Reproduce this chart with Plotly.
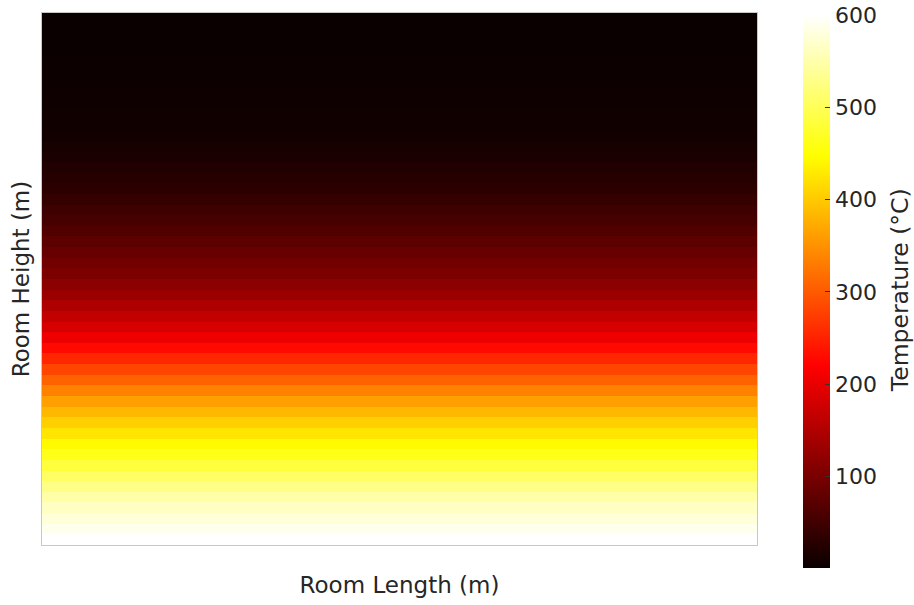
import plotly.graph_objects as go

# Temperature of each horizontal layer of the room, listed from the top row down (°C)
layer_temps = [
    1.0, 1.3, 1.6, 2.0, 2.5, 3.0, 3.6, 4.3, 5.1, 6.0,
    7.0, 8.5, 11.5, 15.5, 20.5, 26.0, 32.5, 39.5, 47.0, 55.5,
    64.5, 74.0, 84.0, 94.0, 104.0, 116.0, 130.0, 147.0, 165.0, 184.0,
    205.0, 228.0, 254.0, 281.0, 308.0, 335.0, 362.0, 384.0, 405.0, 425.0,
    443.0, 462.0, 484.0, 507.0, 529.0, 548.0, 564.0, 577.0, 589.0, 600.0,
]
# Grid cells along the room length (temperature is uniform along it)
length_cells = list(range(50))
height_cells = list(range(len(layer_temps)))

colorbar_ticks = [100, 200, 300, 400, 500, 600]

z = [[t for _ in length_cells] for t in layer_temps]

# matplotlib-style "hot" colour map
hot = [
    [0.0, "rgb(10,0,0)"],
    [0.365079, "rgb(255,0,0)"],
    [0.746032, "rgb(255,255,0)"],
    [1.0, "rgb(255,255,255)"],
]

FONT = "DejaVu Sans"
TXT = "#262626"

fig = go.Figure(
    go.Heatmap(
        z=z,
        x=length_cells,
        y=height_cells,
        colorscale=hot,
        zmin=min(layer_temps),
        zmax=max(layer_temps),
        zsmooth=False,
        colorbar=dict(
            thickness=27,
            thicknessmode="pixels",
            len=553,
            lenmode="pixels",
            x=1.064,
            xanchor="left",
            xpad=0,
            y=0.4765,
            yanchor="middle",
            ypad=0,
            outlinewidth=0,
            tickvals=colorbar_ticks,
            ticks="inside",
            ticklen=5,
            tickcolor="#333333",
            tickfont=dict(family=FONT, size=22, color=TXT),
        ),
    )
)

# Colour bar caption, set beside the tick labels
fig.add_annotation(
    text="Temperature (°C)",
    xref="paper",
    yref="paper",
    x=1.2,
    y=0.479,
    xanchor="center",
    yanchor="middle",
    textangle=-90,
    showarrow=False,
    font=dict(family=FONT, size=23.5, color=TXT),
)

axis_common = dict(
    showticklabels=False,
    ticks="",
    showgrid=False,
    zeroline=False,
    showline=True,
    linecolor="#c8c8c8",
    linewidth=1,
    mirror=True,
    automargin=False,
)

fig.update_layout(
    width=914,
    height=605,
    margin=dict(l=42, r=157, t=13, b=60),
    paper_bgcolor="white",
    plot_bgcolor="white",
    xaxis=dict(
        **axis_common,
        title=dict(text="Room Length (m)", font=dict(family=FONT, size=23, color=TXT), standoff=31),
    ),
    yaxis=dict(
        **axis_common,
        autorange="reversed",
        title=dict(text="Room Height (m)", font=dict(family=FONT, size=23, color=TXT), standoff=4),
    ),
)

fig.write_html("out.html")
